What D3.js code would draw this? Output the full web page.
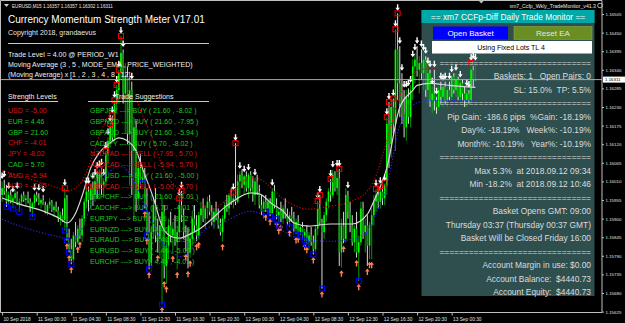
<!DOCTYPE html>
<html>
<head>
<meta charset="UTF-8">
<title>EURUSD,M15 - Currency Momentum Strength Meter</title>
<script src="https://d3js.org/d3.v7.min.js"></script>
<style>
  body { margin: 0; background: #000; }
  svg { display: block; font-family: "Liberation Sans", Arial, sans-serif; }
  .pre { white-space: pre; }
</style>
</head>
<body>
<svg id="chart" width="625" height="323"></svg>
<script>
// ---- price bars (EURUSD M15, 10 Sep 20:30 -> 13 Sep 03:15) ----
var openP = [
 1.1597,1.1599,1.1598,1.1595,1.1597,1.1595,1.1596,1.15975,1.15945,1.1595,
 1.1597,1.15955,1.1596,1.1595,1.1593,1.15945,1.1597,1.1596,1.15945,1.15955,
 1.1594,1.1592,1.1594,1.1595,1.15925,1.15935,1.15925,1.159,1.1591,1.15895,
 1.1596,1.1584,1.1581,1.1578,1.1585,1.1583,1.1587,1.1585,1.159,1.1595,
 1.1598,1.15955,1.1599,1.1597,1.1601,1.1599,1.1603,1.16,1.1601,1.1609,
 1.1613,1.1617,1.1614,1.1624,1.1628,1.1633,1.1639,1.1627,1.1632,1.1615,
 1.1628,1.161,1.1617,1.1596,1.1605,1.1601,1.1602,1.1594,1.1586,1.1577,
 1.1586,1.1594,1.1585,1.1584,1.1588,1.1592,1.1576,1.1582,1.1588,1.1585,
 1.1587,1.1583,1.1586,1.1594,1.1591,1.1586,1.1585,1.158,1.1584,1.159,
 1.1588,1.1585,1.1591,1.1593,1.159,1.1593,1.1595,1.1592,1.1589,1.1592,
 1.159,1.1588,1.1586,1.159,1.1594,1.1593,1.1597,1.1595,1.1596,1.1595,
 1.1601,1.1603,1.16,1.16025,1.1599,1.1603,1.1599,1.1597,1.1601,1.1598,
 1.1594,1.1592,1.1595,1.1593,1.1595,1.15915,1.1598,1.1594,1.1591,1.1592,
 1.159,1.1593,1.1591,1.1589,1.1591,1.159,1.1587,1.1589,1.1586,1.15875,
 1.1585,1.1586,1.1583,1.1585,1.1583,1.1581,1.1587,1.1593,1.1589,1.1586,
 1.1591,1.1595,1.1598,1.1597,1.1603,1.1599,1.1602,1.158,1.1588,1.1584,
 1.1597,1.1592,1.1588,1.1583,1.1587,1.158,1.1583,1.1593,1.1586,1.1588,
 1.1582,1.1588,1.1591,1.1595,1.1597,1.1595,1.1598,1.1596,1.16,1.1618,
 1.1612,1.1623,1.1618,1.164,1.163,1.1624,1.1621,1.1617,1.1626,1.162,
 1.1628,1.1635,1.1637,1.1634,1.1636,1.1633,1.1637,1.1628,1.1633,1.1625,
 1.1627,1.1625,1.1623,1.1628,1.1626,1.1629,1.1625,1.1628,1.1626,1.1632,
 1.1628,1.1631,1.1626,1.163,1.1627,1.1625,1.1627,1.1625,1.1634,1.1631
];
var highP = [
 1.1601,1.16015,1.16,1.1598,1.15985,1.1597,1.15985,1.1598,1.1596,1.15975,
 1.1598,1.1597,1.1598,1.1596,1.1595,1.15975,1.1598,1.15975,1.1596,1.1597,
 1.1595,1.15945,1.1596,1.15955,1.1594,1.1595,1.15935,1.1592,1.1593,1.1599,
 1.1597,1.1587,1.1584,1.1586,1.1589,1.1588,1.159,1.1591,1.1596,1.15995,
 1.15995,1.16,1.1601,1.1602,1.1604,1.16045,1.1605,1.1602,1.161,1.1614,
 1.1618,1.16205,1.1625,1.16295,1.1634,1.1644,1.164,1.1636,1.1635,1.1631,
 1.16305,1.162,1.1619,1.1607,1.1609,1.1606,1.1605,1.1599,1.1592,1.1588,
 1.1596,1.1599,1.159,1.1588,1.1597,1.1594,1.1584,1.159,1.1592,1.1589,
 1.1591,1.1588,1.1596,1.15982,1.1593,1.1588,1.1587,1.1586,1.1592,1.1594,
 1.1591,1.1592,1.1595,1.1596,1.1594,1.15965,1.1597,1.1594,1.1593,1.1595,
 1.1593,1.159,1.1591,1.1595,1.1597,1.15975,1.1599,1.15977,1.16123,1.1603,
 1.1604,1.16045,1.1603,1.1604,1.16035,1.1604,1.16025,1.1602,1.1603,1.16,
 1.1597,1.1596,1.1597,1.1596,1.1596,1.1599,1.16,1.1596,1.1593,1.1595,
 1.1594,1.1596,1.1593,1.1592,1.15935,1.1592,1.159,1.1591,1.1588,1.1589,
 1.1587,1.1588,1.1586,1.15875,1.1585,1.1588,1.15952,1.1597,1.159,1.1592,
 1.1596,1.1599,1.16017,1.16044,1.1604,1.16047,1.16047,1.159,1.1592,1.1599,
 1.15982,1.1595,1.1591,1.1588,1.1592,1.1585,1.1595,1.1595,1.159,1.1591,
 1.1589,1.1593,1.1597,1.15988,1.1599,1.15996,1.15995,1.16004,1.162,1.16245,
 1.1625,1.16255,1.1646,1.16507,1.1641,1.1633,1.1628,1.1628,1.16285,1.16295,
 1.1637,1.1639,1.1641,1.1638,1.164,1.1639,1.1638,1.1635,1.1634,1.1629,
 1.1634,1.1626,1.1629,1.16305,1.163,1.16305,1.1629,1.16305,1.16325,1.1633,
 1.1633,1.1632,1.1631,1.1631,1.1629,1.16285,1.1628,1.1636,1.16365,1.1636
];
var lowP = [
 1.1595,1.1597,1.15935,1.1594,1.15945,1.1593,1.1595,1.1594,1.1592,1.1594,
 1.1595,1.15935,1.15945,1.1592,1.15905,1.15935,1.1595,1.1594,1.1593,1.1594,
 1.15915,1.1591,1.1593,1.1592,1.15905,1.1592,1.1589,1.1588,1.1589,1.15865,
 1.15835,1.158,1.15765,1.1577,1.15815,1.15825,1.1584,1.1583,1.1588,1.1593,
 1.1592,1.1593,1.1594,1.1595,1.1596,1.1597,1.1597,1.1596,1.15995,1.1606,
 1.1611,1.1613,1.1613,1.1621,1.1624,1.1631,1.1624,1.1615,1.1612,1.16,
 1.1597,1.159,1.1592,1.1594,1.1599,1.16005,1.1593,1.1585,1.1575,1.1576,
 1.1584,1.1583,1.158,1.1578,1.15646,1.15723,1.15708,1.1578,1.1583,1.15798,
 1.1582,1.1575,1.1584,1.1589,1.1584,1.15803,1.15753,1.15784,1.1582,1.1586,
 1.15833,1.15839,1.1588,1.1589,1.1587,1.159,1.1591,1.1588,1.1587,1.15895,
 1.1587,1.1585,1.15833,1.1589,1.1592,1.1591,1.1594,1.1593,1.1594,1.15945,
 1.1597,1.1599,1.1597,1.1598,1.1596,1.1598,1.1595,1.1594,1.1597,1.1593,
 1.1591,1.159,1.1592,1.15915,1.15907,1.1591,1.1593,1.15898,1.1588,1.1589,
 1.15885,1.159,1.1588,1.15874,1.1589,1.1586,1.15853,1.15855,1.1585,1.1584,
 1.15833,1.15824,1.1581,1.1582,1.15794,1.158,1.1585,1.1588,1.15693,1.1584,
 1.1589,1.1593,1.1595,1.1596,1.1598,1.1597,1.1576,1.15755,1.15827,1.1583,
 1.159,1.1586,1.1582,1.158,1.15785,1.15715,1.1582,1.1584,1.158,1.1576,
 1.1578,1.1578,1.1588,1.1592,1.1593,1.1593,1.1594,1.1594,1.1597,1.1605,
 1.1608,1.1615,1.161,1.1625,1.162,1.1618,1.1614,1.1613,1.1618,1.1617,
 1.1625,1.163,1.1632,1.1627,1.1631,1.1628,1.1626,1.1624,1.1623,1.1621,
 1.1622,1.1621,1.1622,1.1624,1.1623,1.1624,1.1623,1.1625,1.1625,1.1627,
 1.1626,1.1625,1.1624,1.1625,1.1623,1.1623,1.1624,1.1624,1.1629,1.16305
];
var closeP = [
 1.1599,1.1598,1.1595,1.1597,1.1595,1.1596,1.15975,1.15945,1.1595,1.1597,
 1.15955,1.1596,1.1595,1.1593,1.15945,1.1597,1.1596,1.15945,1.15955,1.1594,
 1.1592,1.1594,1.1595,1.15925,1.15935,1.15925,1.159,1.1591,1.15895,1.1596,
 1.1584,1.1581,1.1578,1.1585,1.1583,1.1587,1.1585,1.159,1.1595,1.1598,
 1.15955,1.1599,1.1597,1.1601,1.1599,1.1603,1.16,1.1601,1.1609,1.1613,
 1.1617,1.1614,1.1624,1.1628,1.1633,1.1639,1.1627,1.1632,1.1615,1.1628,
 1.161,1.1617,1.1596,1.1605,1.1601,1.1602,1.1594,1.1586,1.1577,1.1586,
 1.1594,1.1585,1.1584,1.1588,1.1592,1.1576,1.1582,1.1588,1.1585,1.1587,
 1.1583,1.1586,1.1594,1.1591,1.1586,1.1585,1.158,1.1584,1.159,1.1588,
 1.1585,1.1591,1.1593,1.159,1.1593,1.1595,1.1592,1.1589,1.1592,1.159,
 1.1588,1.1586,1.159,1.1594,1.1593,1.1597,1.1595,1.1596,1.1595,1.1601,
 1.1603,1.16,1.16025,1.1599,1.1603,1.1599,1.1597,1.1601,1.1598,1.1594,
 1.1592,1.1595,1.1593,1.1595,1.15915,1.1598,1.1594,1.1591,1.1592,1.159,
 1.1593,1.1591,1.1589,1.1591,1.159,1.1587,1.1589,1.1586,1.15875,1.1585,
 1.1586,1.1583,1.1585,1.1583,1.1581,1.1587,1.1593,1.1589,1.1586,1.1591,
 1.1595,1.1598,1.1597,1.1603,1.1599,1.1602,1.158,1.1588,1.1584,1.1597,
 1.1592,1.1588,1.1583,1.1587,1.158,1.1583,1.1593,1.1586,1.1588,1.1582,
 1.1588,1.1591,1.1595,1.1597,1.1595,1.1598,1.1596,1.16,1.1618,1.1612,
 1.1623,1.1618,1.164,1.163,1.1624,1.1621,1.1617,1.1626,1.162,1.1628,
 1.1635,1.1637,1.1634,1.1636,1.1633,1.1637,1.1628,1.1633,1.1625,1.1627,
 1.1625,1.1623,1.1628,1.1626,1.1629,1.1625,1.1628,1.1626,1.1632,1.1628,
 1.1631,1.1626,1.163,1.1627,1.1625,1.1627,1.1625,1.1634,1.1631,1.16311
];

// ---- indicator lines, read at these bar indexes ----
var lineBars = [0,8,19,27,30,34,37,41,45,50,54,58,62,65,70,74,78,82,87,92,
                96,102,107,115,119,125,130,135,142,152,162,169,172,178,184,190,192,198,207,219];
var maLine = [1.15961,1.15943,1.15922,1.15899,1.15887,1.15916,1.15967,1.16050,1.16095,1.16124,
              1.16139,1.16130,1.16101,1.16047,1.15961,1.15878,1.15848,1.15842,1.15854,1.15872,
              1.15893,1.15928,1.15952,1.15976,1.15973,1.15943,1.15922,1.15887,1.15878,1.15884,
              1.15884,1.15913,1.15952,1.16050,1.16229,1.16279,1.16294,1.16300,1.16294,1.16288];
var upperBand = [1.16041,1.16026,1.16005,1.15988,1.15982,1.15991,1.16011,1.16071,1.16145,1.16214,
                 1.16255,1.16264,1.16249,1.16205,1.16130,1.16056,1.16011,1.15988,1.15967,1.15943,
                 1.15928,1.15946,1.15982,1.16020,1.16017,1.15988,1.15958,1.15940,1.15928,1.15937,
                 1.15952,1.15982,1.16011,1.16130,1.16264,1.16324,1.16338,1.16344,1.16347,1.16347];
var lowerBand = [1.15898,1.15878,1.15857,1.15845,1.15839,1.15845,1.15869,1.15937,1.15997,1.16041,
                 1.16056,1.16041,1.15997,1.15952,1.15887,1.15833,1.15803,1.15788,1.15803,1.15857,
                 1.15875,1.15887,1.15904,1.15922,1.15916,1.15893,1.15863,1.15845,1.15836,1.15833,
                 1.15839,1.15863,1.15901,1.15997,1.16175,1.16234,1.16243,1.16249,1.16249,1.16249];

// ---- signal markers (bar indexes) ----
var sellArrows = [0,1,3,5,7,15,17,19,29,39,40,42,43,44,45,46,47,48,49,50,51,52,53,54,55,56,60,82,83,
                  107,108,110,112,114,117,125,146,147,152,153,155,156,160,173,175,177,178,179,181,182,183,
                  184,185,186,187,188,189,190,191,192,194,195,196,197,198,199,200,201,203,204,205,207,208,
                  210,212,215,216,217,218,219];
var redBoxes = [29,40,45,48,50,51,52,53,54,55,82,83,107,108,146,147,152,156,173,175,177,178,179,181,182,183,217];
var buyArrows = [30,31,32,35,36,66,67,68,72,74,75,76,79,81,85,86,87,90,91,102,122,124,127,128,129,133,
                 136,137,140,141,144,148,157,158,164,165,169,170,171];
var blueBoxes = [2,5,8,14,29,30,31,32,65,66,67,68,74,122,124,127,128,133,136,138,140,141,144,148,165];

// ---- axes ----
var priceTicks = [1.16505,1.16450,1.16395,1.16340,1.16285,1.16230,1.16175,1.16120,1.16065,
                  1.16010,1.15955,1.15900,1.15845,1.15790,1.15735,1.15680,1.15625];
var timeBars = [0,16,32,48,64,80,96,112,128,144,160,176,192,208];
var timeLabels = ["10 Sep 2018","11 Sep 00:30","11 Sep 04:30","11 Sep 08:30","11 Sep 12:30","11 Sep 16:30",
                  "11 Sep 20:30","12 Sep 00:30","12 Sep 04:30","12 Sep 08:30","12 Sep 12:30","12 Sep 16:30",
                  "12 Sep 20:30","13 Sep 00:30"];
var bidPrice = 1.16311;

// ---- strength meter ----
var currencies = ["USD","EUR","GBP","CHF","JPY","CAD","AUD","NZD"];
var strengths = [-5.00,4.46,21.60,-4.01,-8.02,5.70,-5.94,-7.95];
var suggestPairs = ["GBPJPY","GBPNZD","GBPAUD","CADJPY","NZDCAD","AUDCAD","GBPUSD","USDCAD",
                    "GBPCHF","CADCHF","EURJPY","EURNZD","EURAUD","EURUSD","EURCHF"];
var headerLines = ["Trade Level = 4.00 @ PERIOD_W1",
                   "Moving Average (3 , 5 , MODE_EMA , PRICE_WEIGHTED)",
                   "(Moving Average) x [1 , 2 , 3 , 4 , 8 , 12]"];

// ---- trade monitor panel ----
var sepLine = "===============================";
var panelLines = [sepLine, "Baskets: 1   Open Pairs: 0", "SL: 15.0%  TP: 5.5%", sepLine,
  "Pip Gain: -186.6 pips  %Gain: -18.19%", "Day%: -18.19%   Week%: -10.19%",
  "Month%: -10.19%   Year%: -10.19%", sepLine,
  "Max 5.3%  at 2018.09.12 09:34", "Min -18.2%  at 2018.09.12 10:46", sepLine,
  "Basket Opens GMT: 09:00", "Thursday 03:37 (Thursday 00:37 GMT)",
  "Basket Will be Closed Friday 16:00", sepLine,
  "Account Margin in use: $0.00", "Account Balance:  $4440.73", "Account Equity:  $4440.73"];

var svg = d3.select("#chart");
var plotRight = 602, plotBottom = 312.5;

var x = d3.scaleLinear().domain([0, 277]).range([2.1, 600.8]);
var y = d3.scaleLinear().domain([1.15625, 1.16505]).range([311.6, 14]);

svg.append("rect").attr("width", 625).attr("height", 323).attr("fill", "#000");

svg.append("defs").append("clipPath").attr("id", "plotClip")
  .append("rect").attr("x", 1).attr("y", 1).attr("width", plotRight - 1).attr("height", plotBottom - 1);

// panel background sits behind the bars
var panel = svg.append("g");
panel.append("rect").attr("x", 421.5).attr("y", 10).attr("width", 173).attr("height", 286)
  .attr("fill", "#2f4f4f");
panel.append("rect").attr("x", 421.5).attr("y", 10).attr("width", 173).attr("height", 13)
  .attr("fill", "#00a8a8");

var plot = svg.append("g").attr("clip-path", "url(#plotClip)");

var bars = d3.range(openP.length);
function isBull(i) { return closeP[i] >= openP[i]; }

plot.append("g").selectAll("line").data(bars).join("line")
  .attr("x1", function (i) { return x(i); })
  .attr("x2", function (i) { return x(i); })
  .attr("y1", function (i) { return y(highP[i]); })
  .attr("y2", function (i) { return y(lowP[i]); })
  .attr("stroke", function (i) { return isBull(i) ? "#00a800" : "#f2f2f2"; })
  .attr("stroke-width", 0.9);

plot.append("g").selectAll("rect").data(bars).join("rect")
  .attr("x", function (i) { return x(i) - 0.8; })
  .attr("width", 1.6)
  .attr("y", function (i) { return y(Math.max(openP[i], closeP[i])); })
  .attr("height", function (i) { return Math.max(0.8, Math.abs(y(openP[i]) - y(closeP[i]))); })
  .attr("fill", function (i) { return isBull(i) ? "#00ff00" : "#00a000"; });

// indicator lines
function bandPath(vals) {
  return d3.line()
    .x(function (d, k) { return x(lineBars[k]); })
    .y(function (d) { return y(d); })
    .curve(d3.curveMonotoneX)(vals);
}
plot.append("path").attr("d", bandPath(upperBand)).attr("fill", "none")
  .attr("stroke", "#e00000").attr("stroke-width", 1.1).attr("stroke-dasharray", "1.2,1.8");
plot.append("path").attr("d", bandPath(lowerBand)).attr("fill", "none")
  .attr("stroke", "#2a2aff").attr("stroke-width", 1.1).attr("stroke-dasharray", "1.2,1.8");
plot.append("path").attr("d", bandPath(maLine)).attr("fill", "none")
  .attr("stroke", "#d8d8d8").attr("stroke-width", 1.2);

// signal markers
plot.append("g").selectAll("path").data(sellArrows).join("path")
  .attr("d", function (i) {
    var cx = x(i), t = y(highP[i]) - 9;
    return "M" + (cx - 0.7) + "," + t + "h1.4v3.4h1.6l-2.3,3.1l-2.3,-3.1h1.6z";
  })
  .attr("fill", "#ffffff");
plot.append("g").selectAll("path").data(buyArrows).join("path")
  .attr("d", function (i) {
    var cx = x(i), b = y(lowP[i]) + 9;
    return "M" + (cx - 0.7) + "," + b + "h1.4v-3.4h1.6l-2.3,-3.1l-2.3,3.1h1.6z";
  })
  .attr("fill", "#ff7f50");
plot.append("g").selectAll("rect").data(redBoxes).join("rect")
  .attr("x", function (i) { return x(i) - 2.5; })
  .attr("y", function (i) { return y(highP[i]) - 2.5; })
  .attr("width", 5).attr("height", 5)
  .attr("fill", "none").attr("stroke", "#ff0000").attr("stroke-width", 1);
plot.append("g").selectAll("rect").data(blueBoxes).join("rect")
  .attr("x", function (i) { return x(i) - 2.5; })
  .attr("y", function (i) { return y(lowP[i]) - 2.5; })
  .attr("width", 5).attr("height", 5)
  .attr("fill", "none").attr("stroke", "#0000ff").attr("stroke-width", 1.1);

// bid line
svg.append("line").attr("x1", 1).attr("x2", plotRight)
  .attr("y1", y(bidPrice)).attr("y2", y(bidPrice))
  .attr("stroke", "#a8a8a8").attr("stroke-width", 1);

// frame and axes
svg.append("path").attr("d", "M0.5,0.5H" + plotRight + "V" + plotBottom + "H0.5Z")
  .attr("fill", "none").attr("stroke", "#c0c0c0").attr("stroke-width", 1);

var yAxis = svg.append("g").attr("transform", "translate(" + plotRight + ",0)")
  .call(d3.axisRight(y).tickValues(priceTicks).tickSize(2).tickPadding(1.5)
        .tickFormat(d3.format(".5f")));
yAxis.select(".domain").remove();
yAxis.selectAll("line").attr("stroke", "#c0c0c0");
yAxis.selectAll("text").attr("fill", "#e0e0e0").attr("font-size", 4.4)
  .attr("font-family", "Liberation Sans, Arial, sans-serif");

var xAxis = svg.append("g").attr("transform", "translate(0," + plotBottom + ")")
  .call(d3.axisBottom(x).tickValues(timeBars).tickSize(3)
        .tickFormat(function (d, k) { return timeLabels[k]; }));
xAxis.select(".domain").remove();
xAxis.selectAll("line").attr("stroke", "#c0c0c0");
xAxis.selectAll("text").attr("fill", "#e0e0e0").attr("font-size", 4.8)
  .attr("font-family", "Liberation Sans, Arial, sans-serif")
  .attr("text-anchor", "start").attr("x", 0.8).attr("y", 8).attr("dy", 0);

// current price label
svg.append("rect").attr("x", 603).attr("y", y(bidPrice) - 3).attr("width", 22).attr("height", 6)
  .attr("fill", "#ffffff");
svg.append("text").attr("x", 605).attr("y", y(bidPrice) + 1.6).attr("font-size", 4.4)
  .attr("fill", "#000").text(d3.format(".5f")(bidPrice));

// chart captions
svg.append("path").attr("d", "M4,4h5l-2.5,3z").attr("fill", "#d0d0d0");
svg.append("text").attr("x", 12).attr("y", 7.5).attr("font-size", 4.6).attr("fill", "#e8e8e8")
  .text("EURUSD,M15  1.16357 1.16357 1.16302 1.16311");
svg.append("text").attr("x", 596).attr("y", 7.5).attr("font-size", 5.2).attr("fill", "#e8e8e8")
  .attr("text-anchor", "end").text("xm7_Ccfp_Wkly_TradeMonitor_v41.3");
svg.append("circle").attr("cx", 600).attr("cy", 5.5).attr("r", 2.3)
  .attr("fill", "none").attr("stroke", "#e0e0e0").attr("stroke-width", 0.8);
svg.append("path").attr("d", "M479,1h4.5l-2.25,2.5z").attr("fill", "#c0c0c0");

// strength meter texts
var meter = svg.append("g");
meter.append("text").attr("x", 8).attr("y", 22.7).attr("font-size", 10).attr("fill", "#fff")
  .text("Currency Momentum Strength Meter V17.01");
meter.append("text").attr("x", 8).attr("y", 35.3).attr("font-size", 7).attr("fill", "#e6e6e6")
  .text("Copyright 2018, grandaevus");
meter.append("line").attr("x1", 8).attr("x2", 209).attr("y1", 43.5).attr("y2", 43.5)
  .attr("stroke", "#c8c8c8");
meter.selectAll("text.hdr").data(headerLines).join("text").attr("class", "hdr")
  .attr("x", 8).attr("y", function (d, k) { return 56.5 + k * 10.4; })
  .attr("font-size", 7).attr("fill", "#f0f0f0").text(function (d) { return d; });
meter.append("text").attr("x", 8).attr("y", 98.5).attr("font-size", 7).attr("fill", "#f0f0f0")
  .text("Strength Levels");
meter.append("text").attr("x", 115).attr("y", 98.5).attr("font-size", 7).attr("fill", "#f0f0f0")
  .text("Trade Suggestions");
meter.append("line").attr("x1", 8).attr("x2", 58).attr("y1", 101.5).attr("y2", 101.5)
  .attr("stroke", "#c8c8c8");
meter.append("line").attr("x1", 88).attr("x2", 209).attr("y1", 101.5).attr("y2", 101.5)
  .attr("stroke", "#c8c8c8");

var upColor = "#1ec81e", downColor = "#dc1414";
meter.selectAll("text.str").data(currencies).join("text").attr("class", "str")
  .attr("x", 8).attr("y", function (d, k) { return 113.3 + k * 10.7; })
  .attr("font-size", 7)
  .attr("fill", function (d, k) { return strengths[k] >= 0 ? upColor : downColor; })
  .text(function (d, k) { return d + " = " + strengths[k].toFixed(2); });

function strengthOf(cur) { return strengths[currencies.indexOf(cur)]; }
meter.selectAll("text.sug").data(suggestPairs).join("text").attr("class", "sug")
  .attr("x", 90).attr("y", function (d, k) { return 113.3 + k * 10.75; })
  .attr("font-size", 7)
  .attr("fill", function (d) { return strengthOf(d.slice(0, 3)) > strengthOf(d.slice(3)) ? upColor : downColor; })
  .text(function (d) {
    var b = strengthOf(d.slice(0, 3)), q = strengthOf(d.slice(3));
    return d + " ---> " + (b > q ? "BUY" : "SELL") + " ( " + b.toFixed(2) + " , " + q.toFixed(2) + " )";
  });

// trade monitor panel foreground
var pf = svg.append("g");
pf.append("text").attr("x", 508).attr("y", 19.8).attr("font-size", 8.4).attr("fill", "#fff")
  .attr("text-anchor", "middle").text("== xm7 CCFp-Diff Daily Trade Monitor ==");
pf.append("rect").attr("x", 433).attr("y", 26.5).attr("width", 75).attr("height", 13).attr("fill", "#0000ff");
pf.append("text").attr("x", 470.5).attr("y", 36).attr("font-size", 8).attr("fill", "#fff")
  .attr("text-anchor", "middle").text("Open Basket");
pf.append("rect").attr("x", 514).attr("y", 26.5).attr("width", 78).attr("height", 13).attr("fill", "#6b8e23")
  .attr("stroke", "#8aa84a").attr("stroke-width", 0.6);
pf.append("text").attr("x", 553).attr("y", 36).attr("font-size", 8).attr("fill", "#e4e4e4")
  .attr("text-anchor", "middle").text("Reset EA");
pf.append("rect").attr("x", 432).attr("y", 41).attr("width", 160).attr("height", 12.5).attr("fill", "#fff");
pf.append("text").attr("x", 511).attr("y", 49.6).attr("font-size", 7).attr("fill", "#000")
  .attr("text-anchor", "middle").text("Using Fixed Lots TL 4");
pf.selectAll("text.pl").data(panelLines).join("text").attr("class", "pl pre")
  .attr("x", 591).attr("y", function (d, k) { return 66 + k * 13.47; })
  .attr("font-size", 8.4).attr("fill", "#dcdcdc").attr("text-anchor", "end")
  .text(function (d) { return d; });
</script>
</body>
</html>
